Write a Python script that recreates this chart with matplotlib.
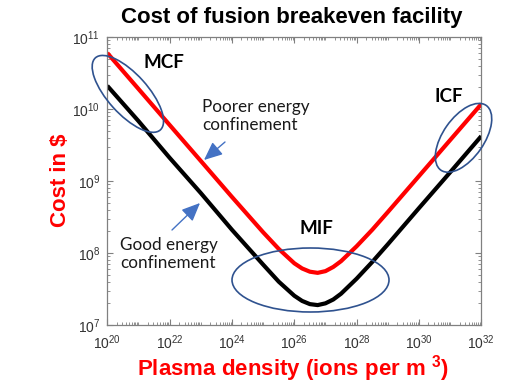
import numpy as np
import matplotlib
matplotlib.use("Agg")
import matplotlib.pyplot as plt
from matplotlib.patches import Ellipse
from matplotlib.transforms import ScaledTranslation
from matplotlib.ticker import LogLocator, NullFormatter

plt.rcParams['font.family'] = 'Liberation Sans'
plt.rcParams['mathtext.fontset'] = 'custom'
plt.rcParams['mathtext.rm'] = 'Liberation Sans'
plt.rcParams['mathtext.bf'] = 'Liberation Sans:bold'

# plasma density as powers of ten (ions per m^3)
density_exp = [20, 21, 22, 23, 24, 25, 25.5, 26, 26.25, 26.5, 26.75,
               27, 27.25, 27.5, 28, 28.5, 29, 30, 31, 32]
# cost in $
cost_poor = [6.0e10, 1.9e10, 6.0e9, 1.9e9, 6.0e8, 1.94e8, 1.14e8, 7.2e7, 6.1e7,
             5.5e7, 5.3e7, 5.6e7, 6.4e7, 7.7e7, 1.24e8, 2.1e8, 3.7e8,
             1.17e9, 3.7e9, 1.17e10]
cost_good = [2.1e10, 6.8e9, 2.1e9, 6.8e8, 2.1e8, 6.9e7, 4.0e7, 2.55e7, 2.16e7,
             1.95e7, 1.89e7, 2.0e7, 2.26e7, 2.72e7, 4.4e7, 7.5e7, 1.32e8,
             4.2e8, 1.32e9, 4.2e9]

density = 10.0 ** np.array(density_exp)

W, H = 527, 385
fig = plt.figure(figsize=(W / 100, H / 100), dpi=100)
ax = fig.add_axes([107.3 / W, 1 - 325 / H, 374 / W, 288 / H])

ax.plot(density, cost_poor, color='#ff0000', lw=3, solid_capstyle='butt')
ax.plot(density, cost_good, color='black', lw=3, solid_capstyle='butt')

ax.set_xscale('log')
ax.set_yscale('log')
ax.set_xlim(1e20, 1e32)
ax.set_ylim(1e7, 1e11)
ax.set_xticks([10.0 ** k for k in range(20, 33, 2)])
ax.set_yticks([10.0 ** k for k in range(7, 12)])
ax.xaxis.set_minor_locator(LogLocator(base=10, subs=np.arange(1, 10), numticks=200))
ax.yaxis.set_minor_locator(LogLocator(base=10, subs=np.arange(2, 10), numticks=200))
ax.xaxis.set_minor_formatter(NullFormatter())
ax.yaxis.set_minor_formatter(NullFormatter())

for s in ax.spines.values():
    s.set_color('#808080')
    s.set_linewidth(0.9)
ax.tick_params(which='both', direction='in', top=True, right=True, color='#808080',
               labelcolor='#333333', labelsize=10)
ax.tick_params(which='major', length=4)
ax.tick_params(which='minor', length=2)
ax.tick_params(axis='x', pad=6)
ax.tick_params(axis='y', pad=5)

# ellipses around the three regimes, centre in data coords, size in inches
def ring(cx, cy, w, h, ang):
    tr = fig.dpi_scale_trans + ScaledTranslation(cx, cy, ax.transData)
    ax.add_patch(Ellipse((0, 0), w / 100, h / 100, angle=ang, transform=tr,
                         fill=False, ec='#2F528F', lw=1.2, clip_on=False, zorder=3))

ring(10 ** 20.66, 10 ** 10.21, 97, 40, -48)
ring(10 ** 26.52, 10 ** 7.625, 157, 64, 0)
ring(10 ** 31.43, 10 ** 9.60, 79, 41, 55)

def px(x, y):
    return x / W, 1 - y / H

fig.text(*px(292, 18), 'Cost of fusion breakeven facility', ha='center', va='center',
         fontsize=16, fontweight='bold')
fig.text(*px(61, 180), 'Cost in $', ha='center', va='center', rotation=90,
         fontsize=16, fontweight='bold', color='#ff0000')
fig.text(*px(293, 369), r'Plasma density (ions per m $^{\mathbf{3}}$)', ha='center',
         va='center', fontsize=16, fontweight='bold', color='#ff0000')

lab = dict(family='Lato', fontweight='bold', fontsize=13.5, ha='center', va='center')
fig.text(*px(164, 63), 'MCF', **lab)
fig.text(*px(449, 97), 'ICF', **lab)
fig.text(*px(316, 228), 'MIF', **lab)

note = dict(family='Lato', fontsize=12.3, ha='left', va='center', color='#1a1a1a',
            linespacing=1.2)
fig.text(*px(202, 116), 'Poorer energy\nconfinement', **note)
fig.text(*px(120, 254), 'Good energy\nconfinement', **note)

arrow = dict(arrowstyle='-|>,head_length=0.8,head_width=0.35', color='#4472C4',
             lw=1, mutation_scale=14, shrinkA=0, shrinkB=0)
ax.annotate('', xy=(204, H - 160), xycoords='figure pixels',
            xytext=(225, H - 142), textcoords='figure pixels', arrowprops=arrow)
ax.annotate('', xy=(200, H - 203), xycoords='figure pixels',
            xytext=(172, H - 230), textcoords='figure pixels', arrowprops=arrow)

fig.savefig('out.png', dpi=100)
